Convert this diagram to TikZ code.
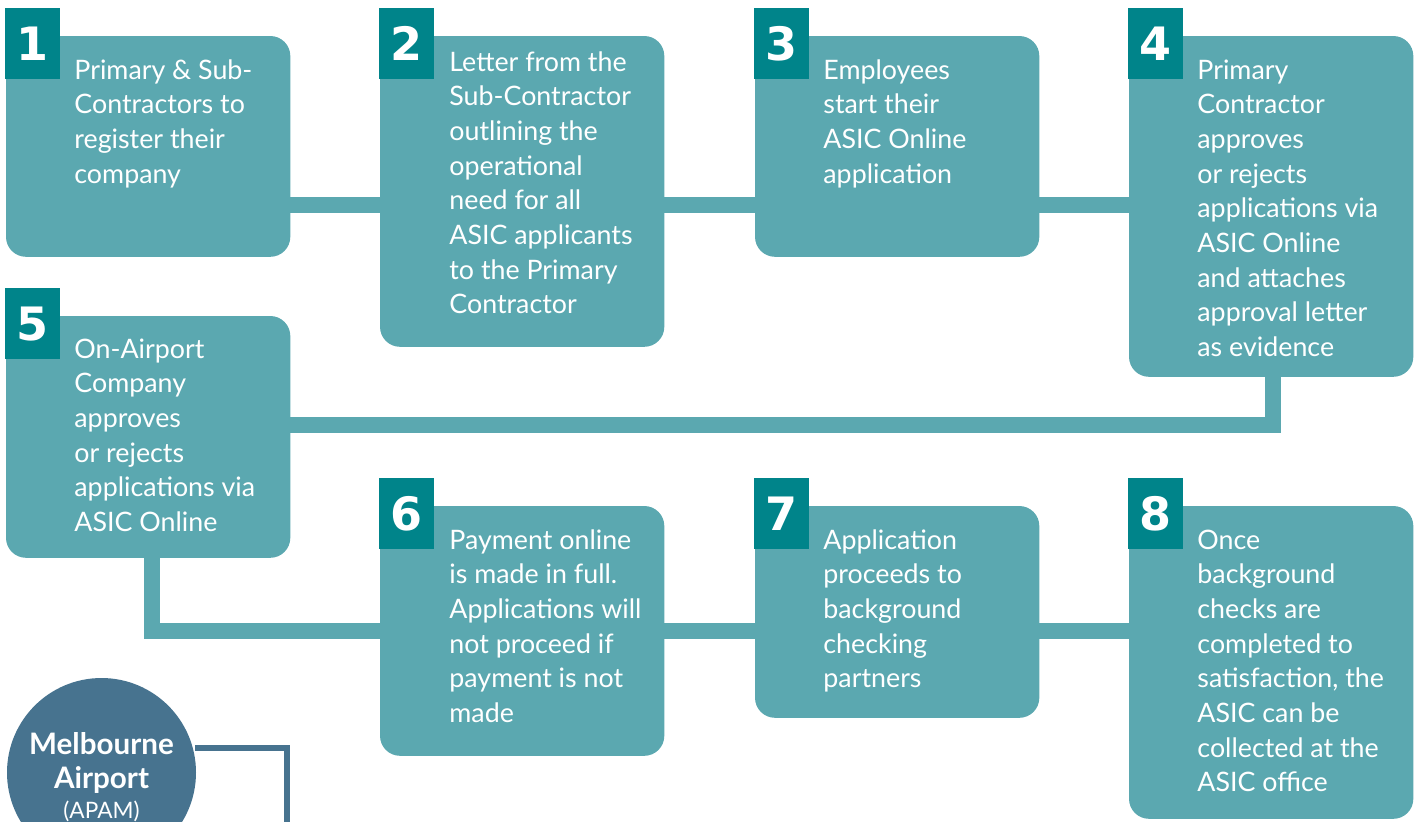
\documentclass[tikz,border=0pt]{standalone}
\usepackage{fontspec}
\setmainfont{Lato}
\newfontfamily\numfont{DejaVu Sans}
\definecolor{boxc}{HTML}{5BA8B0}
\definecolor{badgec}{HTML}{00848A}
\definecolor{circc}{HTML}{47738F}
\newcommand{\boxtext}[1]{\parbox[t]{150pt}{\raggedright\fontsize{13.4}{17.35}\selectfont #1}}
\begin{document}
\begin{tikzpicture}[x=0.5pt,y=-0.5pt,
  box/.style={draw=none,fill=boxc,rounded corners=10pt,anchor=north west,inner sep=0pt,minimum width=141.75pt},
  badge/.style={fill=badgec,anchor=north west,inner sep=0pt,minimum width=27.5pt,minimum height=35.5pt,text=white,font=\numfont\bfseries\fontsize{23}{23}\selectfont},
  txt/.style={anchor=base west,inner sep=0pt,text=white},
  conn/.style={draw=boxc,line width=8pt,line join=miter},
  circ/.style={circle,fill=circc,minimum size=94.5pt,inner sep=0pt},
  circline/.style={draw=circc,line width=2.6pt,line join=miter}]
\useasboundingbox (0,0) rectangle (1416,821);
% boxes (nodes) defined first invisibly for naming
\path
  node[box,minimum height=110pt,fill=none] (b1) at (6,36) {}
  node[box,minimum height=155pt,fill=none] (b2) at (380,36) {}
  node[box,minimum height=110pt,fill=none] (b3) at (755,36) {}
  node[box,minimum height=170pt,fill=none] (b4) at (1129,36) {}
  node[box,minimum height=120.5pt,fill=none] (b5) at (6,316) {}
  node[box,minimum height=124.5pt,fill=none] (b6) at (380,506) {}
  node[box,minimum height=105.5pt,fill=none] (b7) at (755,506) {}
  node[box,minimum height=156pt,fill=none] (b8) at (1129,506) {};
% connectors
\draw[conn] (b1.east |- 0,205) -- (b2.west |- 0,205);
\draw[conn] (b2.east |- 0,205) -- (b3.west |- 0,205);
\draw[conn] (b3.east |- 0,205) -- (b4.west |- 0,205);
\draw[conn] (b4.south -| 1273,0) |- (b5.east |- 0,424.5);
\draw[conn] (b5.south -| 152,0) |- (b6.west |- 0,631);
\draw[conn] (b6.east |- 0,631) -- (b7.west |- 0,631);
\draw[conn] (b7.east |- 0,631) -- (b8.west |- 0,631);
% filled boxes
\foreach \b in {b1,b2,b3,b4,b5,b6,b7,b8}{
  \fill[boxc,rounded corners=10pt] (\b.north west) rectangle (\b.south east);
}
% badges
\node[badge] (n1) at (5,8) {1};
\node[badge] (n2) at (379,8) {2};
\node[badge] (n3) at (754,8) {3};
\node[badge] (n4) at (1128,8) {4};
\node[badge] (n5) at (5,288) {5};
\node[badge] (n6) at (379,478) {6};
\node[badge] (n7) at (754,478) {7};
\node[badge] (n8) at (1128,478) {8};
% texts
\node[txt] (t1) at (74,79) {\boxtext{Primary \& Sub-\\Contractors to\\register their\\company}};
\node[txt] (t2) at (449,71) {\boxtext{Letter from the\\Sub-Contractor\\outlining the\\operational\\need for all\\ASIC applicants\\to the Primary\\Contractor}};
\node[txt] (t3) at (823,79) {\boxtext{Employees\\start their\\ASIC Online\\application}};
\node[txt] (t4) at (1197,79) {\boxtext{Primary\\Contractor\\approves\\or rejects\\applications via\\ASIC Online\\and attaches\\approval letter\\as evidence}};
\node[txt] (t5) at (74,358) {\boxtext{On-Airport\\Company\\approves\\or rejects\\applications via\\ASIC Online}};
\node[txt] (t6) at (449,549) {\boxtext{Payment online\\is made in full.\\Applications will\\not proceed if\\payment is not\\made}};
\node[txt] (t7) at (823,549) {\boxtext{Application\\proceeds to\\background\\checking\\partners}};
\node[txt] (t8) at (1197,549) {\boxtext{Once\\background\\checks are\\completed to\\satisfaction, the\\ASIC can be\\collected at the\\ASIC office}};
% circle
\coordinate (lineend) at (287,830);
\draw[circline] (195,748) -| (lineend);
\node[circ] (apam) at (101.5,772.5) {};
\node[anchor=base,text=white,inner sep=0pt,font=\bfseries\fontsize{14.8}{17}\selectfont] (mel) at (101.5,754) {Melbourne};
\node[anchor=base,text=white,inner sep=0pt,font=\bfseries\fontsize{14.8}{17}\selectfont] (air) at (101.5,788) {Airport};
\node[anchor=base,text=white,inner sep=0pt,font=\fontsize{11.3}{13}\selectfont] (ap) at (101.5,818) {(APAM)};
\end{tikzpicture}
\end{document}
